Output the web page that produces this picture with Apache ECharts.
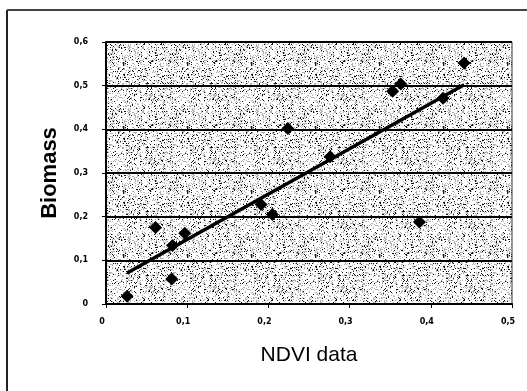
<!DOCTYPE html>
<html>
<head>
<meta charset="utf-8">
<script src="https://cdn.jsdelivr.net/npm/echarts@6/dist/echarts.min.js"></script>
<style>
  html, body { margin: 0; padding: 0; background: #fff; }
  #chart { width: 527px; height: 391px; }
</style>
</head>
<body>
<div id="chart"></div>
<script>
// NDVI (x) vs biomass (y) points
const ndvi = [0.026, 0.061, 0.081, 0.082, 0.097, 0.191, 0.205, 0.224, 0.276, 0.353, 0.363, 0.386, 0.415, 0.441]
const biomass = [0.018, 0.175, 0.057, 0.134, 0.162, 0.228, 0.205, 0.402, 0.337, 0.487, 0.504, 0.188, 0.471, 0.552]
// trend line end points
const trendX = [0.026, 0.441]
const trendY = [0.071, 0.502]
const tickLabels = ['0', '0,1', '0,2', '0,3', '0,4', '0,5', '0,6']

// stipple texture for the plot background
const makeStipple = () => {
  const c = document.createElement('canvas')
  c.width = 64
  c.height = 64
  const ctx = c.getContext('2d')
  ctx.fillStyle = '#fff'
  ctx.fillRect(0, 0, 64, 64)
  let s = 12345
  const next = () => {
    s = (s * 1103515245 + 12345) % 2147483648
    return s / 2147483648
  }
  for (let y = 0; y < 64; y++) {
    for (let x = 0; x < 64; x++) {
      const r = next()
      if (r < 0.08) {
        ctx.fillStyle = '#111'
        ctx.fillRect(x, y, 1, 1)
      }
      else if (r < 0.26) {
        ctx.fillStyle = '#b0b0b0'
        ctx.fillRect(x, y, 1, 1)
      }
    }
  }
  return c
}

const chart = echarts.init(document.getElementById('chart'))
const labelStyle = { color: '#000', fontSize: 8, fontWeight: 'bold', fontFamily: 'DejaVu Sans' }

const option = {
  animation: false,
  backgroundColor: '#fff',
  grid: {
    left: 106, right: 15, top: 42, bottom: 87,
    show: true,
    backgroundColor: { image: makeStipple(), repeat: 'repeat' },
    borderColor: '#333',
    borderWidth: 1,
  },
  xAxis: {
    type: 'value',
    min: 0, max: 0.5, interval: 0.1,
    name: 'NDVI data',
    nameLocation: 'middle',
    nameGap: 41,
    nameTextStyle: { color: '#000', fontSize: 21, fontFamily: 'Liberation Sans' },
    axisLine: { lineStyle: { color: '#000', width: 2 } },
    axisTick: { show: true, length: 4, lineStyle: { color: '#000', width: 1 } },
    splitLine: { show: false },
    axisLabel: {
      ...labelStyle,
      margin: 14,
      padding: [0, 8, 0, 0],
      formatter: v => tickLabels[Math.round(v * 10)],
    },
  },
  yAxis: {
    type: 'value',
    min: 0, max: 0.6, interval: 0.1,
    name: 'Biomass',
    nameLocation: 'middle',
    nameGap: 45,
    nameTextStyle: { color: '#000', fontSize: 22, fontWeight: 'bold', fontFamily: 'Liberation Sans' },
    axisLine: { show: true, lineStyle: { color: '#000', width: 2 } },
    axisTick: { show: true, length: 4, lineStyle: { color: '#000', width: 1 } },
    splitLine: { show: true, lineStyle: { color: '#000', width: 2 } },
    axisLabel: {
      ...labelStyle,
      margin: 18,
      formatter: v => tickLabels[Math.round(v * 10)],
    },
  },
  graphic: [
    { type: 'line', shape: { x1: 7, y1: 10, x2: 7, y2: 391 }, style: { stroke: '#222', lineWidth: 2 } },
    { type: 'line', shape: { x1: 7, y1: 10, x2: 527, y2: 10 }, style: { stroke: '#444', lineWidth: 2 } },
  ],
  series: [
    {
      type: 'line',
      data: trendX.map((x, i) => [x, trendY[i]]),
      showSymbol: false,
      symbol: 'none',
      lineStyle: { color: '#000', width: 3.5 },
      z: 3,
    },
    {
      type: 'scatter',
      data: ndvi.map((x, i) => [x, biomass[i]]),
      symbol: 'diamond',
      symbolSize: 13,
      itemStyle: { color: '#000', opacity: 1 },
      z: 4,
    },
  ],
}
chart.setOption(option)
</script>
</body>
</html>
